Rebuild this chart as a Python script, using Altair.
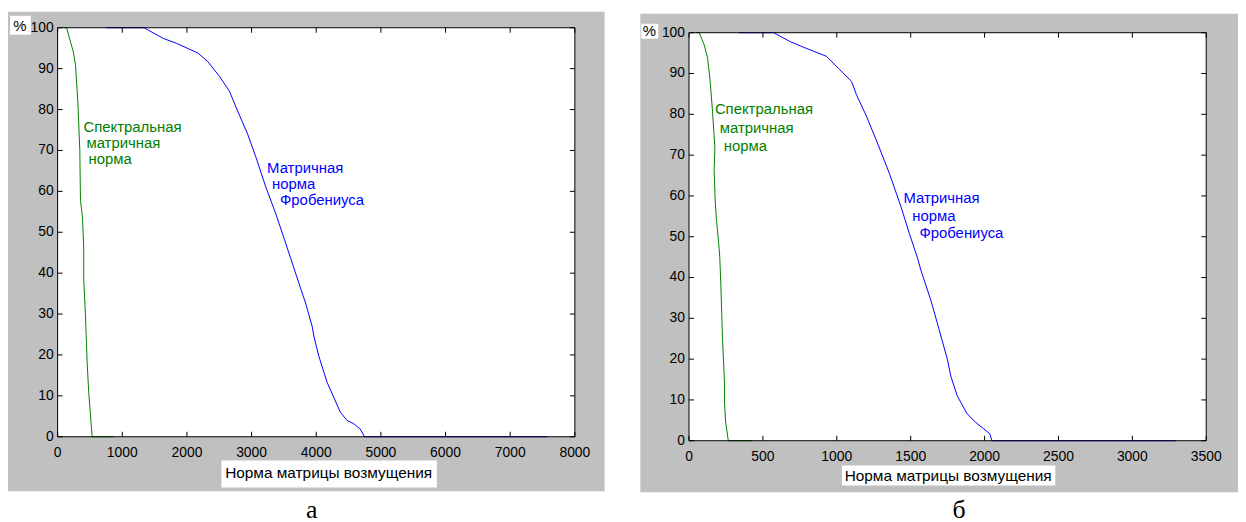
import altair as alt
import pandas as pd

# ---------------- data ----------------
# Panel "а"
a_green_x = [100, 138, 241, 276, 312, 343, 353, 384, 404, 404, 430, 456, 481, 533, 865]
a_green_y = [100, 100, 94.2, 91, 82, 70, 57.8, 53.7, 46, 38.3, 29.9, 18.2, 10.9, 0, 0]
a_blue_x = [753, 1336, 1633, 1838, 2171, 2324, 2504, 2657, 2785, 2939, 3068, 3221, 3375,
            3502, 3605, 3733, 3835, 3937, 3963, 4040, 4168, 4373, 4475, 4578, 4680, 4747, 7573]
a_blue_y = [100, 100, 97.4, 96.2, 93.8, 91.7, 88.1, 84.5, 79.6, 74, 68.3, 61, 54.5,
            48.5, 43.6, 37.5, 32.7, 27, 24.6, 19.7, 13.3, 6, 4, 3.2, 1.9, 0, 0]
a_xticks = [0, 1000, 2000, 3000, 4000, 5000, 6000, 7000, 8000]

# Panel "б"
b_green_x = [47, 69, 103, 126, 141, 159, 175, 170, 177, 186, 199, 208, 215, 222, 226,
             233, 240, 240, 248, 266, 428]
b_green_y = [100, 100, 97, 93.7, 88.9, 80.8, 71.8, 66.2, 58.9, 54, 49.1, 45.1, 38.6, 30.5,
             25.6, 20, 14.3, 9.4, 4.5, 0, 0]
b_blue_x = [338, 573, 685, 764, 931, 1010, 1099, 1133, 1200, 1278, 1357, 1435, 1491, 1547,
            1569, 1636, 1692, 1748, 1771, 1815, 1882, 1939, 1995, 2035, 2050, 3293]
b_blue_y = [100, 100, 97.8, 96.6, 94.2, 91.3, 88.1, 84.8, 79.6, 72.7, 65.4, 57.3, 50.8, 44.7,
            41.8, 34.5, 27.3, 20, 15.9, 11, 6.6, 4.5, 2.9, 1.7, 0, 0]
b_xticks = [0, 500, 1000, 1500, 2000, 2500, 3000, 3500]

yticks = [0, 10, 20, 30, 40, 50, 60, 70, 80, 90, 100]

green_lines = ["Спектральная", "матричная", "норма"]
blue_lines = ["Матричная", "норма", "Фробениуса"]
a_green_tx = [399, 445, 476]
a_green_ty = [75.7, 71.8, 68.0]
a_blue_tx = [3240, 3317, 3440]
a_blue_ty = [65.8, 61.9, 57.8]
b_green_tx = [175, 208, 235]
b_green_ty = [81.3, 76.6, 72.3]
b_blue_tx = [1451, 1511, 1559]
b_blue_ty = [59.6, 55.0, 50.9]

x_title = "Норма матрицы возмущения"
y_title = "%"

GREEN = "#008000"
BLUE = "#0000FF"
GRAY = "#C0C0C0"
FONT = "Liberation Sans"
W = 521


def panel(gx, gy, bx, by, xmax, xticks, gtx, gty, btx, bty, tag, geo):
    H = geo["H"]
    oy = geo["oy"]
    one = pd.DataFrame({"k": [0]})
    xs = alt.Scale(domain=[0, xmax], nice=False, zero=False)
    ys = alt.Scale(domain=[0, 100], nice=False, zero=False, range=[oy + H, oy])

    def X(f):
        return alt.X(f, scale=xs, axis=None)

    def Y(f):
        return alt.Y(f, scale=ys, axis=None)

    def box(x0, x1, y0, y1, **kw):
        return alt.Chart(one).mark_rect(**kw).encode(
            x=alt.value(x0), x2=alt.value(x1), y=alt.value(y0 + oy), y2=alt.value(y1 + oy))

    layers = [
        box(geo["gx0"], geo["gx1"], geo["gy0"], geo["gy1"], color=GRAY),   # figure background
        box(0, W, 0, H, color="white"),                                    # plot area
        box(geo["px0"], geo["px1"], geo["py0"], geo["py1"], color="white"),  # "%" box
        box(geo["tx0"], geo["tx1"], geo["ty0"], geo["ty1"], color="white"),  # x title box
    ]

    # curves
    gdf = pd.DataFrame({"x": gx, "y": gy, "i": range(len(gx))})
    bdf = pd.DataFrame({"x": bx, "y": by, "i": range(len(bx))})
    layers.append(alt.Chart(gdf).mark_line(color=GREEN, strokeWidth=1).encode(
        x=X("x:Q"), y=Y("y:Q"), order="i:Q"))
    layers.append(alt.Chart(bdf).mark_line(color=BLUE, strokeWidth=1).encode(
        x=X("x:Q"), y=Y("y:Q"), order="i:Q"))

    # inward ticks on all four sides
    xt = pd.DataFrame({"v": xticks, "t": [str(v) for v in xticks]})
    yt = pd.DataFrame({"v": yticks, "t": [str(v) for v in yticks]})
    for (a, b) in [(H, H - 5), (0, 5)]:
        layers.append(alt.Chart(xt).mark_rule(color="#000", strokeWidth=1).encode(
            x=X("v:Q"), y=alt.value(a + oy), y2=alt.value(b + oy)))
    for (a, b) in [(0, 5), (W, W - 5)]:
        layers.append(alt.Chart(yt).mark_rule(color="#000", strokeWidth=1).encode(
            y=Y("v:Q"), x=alt.value(a), x2=alt.value(b)))
    # box
    layers.append(box(0, W, 0, H, fill=None, stroke="#000", strokeWidth=1))

    # tick labels
    layers.append(alt.Chart(xt).mark_text(color="#000", font=FONT, fontSize=14, align="center",
                                          baseline="top").encode(
        x=X("v:Q"), y=alt.value(H + oy + 9), text="t:N"))
    layers.append(alt.Chart(yt).mark_text(color="#000", font=FONT, fontSize=14, align="right",
                                          baseline="middle").encode(
        y=Y("v:Q"), x=alt.value(-4), text="t:N"))

    # annotations
    gt = pd.DataFrame({"t": green_lines, "x": gtx, "y": gty})
    bt = pd.DataFrame({"t": blue_lines, "x": btx, "y": bty})
    layers.append(alt.Chart(gt).mark_text(color=GREEN, font=FONT, fontSize=15, align="left",
                                          baseline="middle").encode(
        x=X("x:Q"), y=Y("y:Q"), text="t:N"))
    layers.append(alt.Chart(bt).mark_text(color=BLUE, font=FONT, fontSize=15, align="left",
                                          baseline="middle").encode(
        x=X("x:Q"), y=Y("y:Q"), text="t:N"))

    # axis titles and panel tag
    layers.append(alt.Chart(pd.DataFrame({"t": [x_title]})).mark_text(
        color="#000", font=FONT, fontSize=15.5, align="center", baseline="middle").encode(
        x=alt.value(geo["ttx"]), y=alt.value(geo["tty"] + oy), text="t:N"))
    layers.append(alt.Chart(pd.DataFrame({"t": [y_title]})).mark_text(
        color="#000", font=FONT, fontSize=15, align="center", baseline="middle").encode(
        x=alt.value(geo["ptx"]), y=alt.value(geo["pty"] + oy), text="t:N"))
    layers.append(alt.Chart(pd.DataFrame({"t": [tag]})).mark_text(
        color="#000", font="Liberation Serif", fontSize=26, align="center",
        baseline="alphabetic").encode(
        x=alt.value(geo["tagx"]), y=alt.value(geo["tagy"] + oy), text="t:N"))

    return alt.layer(*layers).properties(width=W, height=H + oy)


geo_a = dict(H=412, oy=0, gx0=-50, gx1=551, gy0=-16, gy1=467,
             px0=-48, px1=-27, py0=-12, py1=7, tx0=165, tx1=382, ty0=436, ty1=463,
             ttx=273, tty=449, ptx=-38, pty=-2, tagx=256, tagy=494)
geo_b = dict(H=411, oy=5, gx0=-49, gx1=553, gy0=-19, gy1=463,
             px0=-48, px1=-31, py0=-9, py1=6, tx0=154, tx1=369, ty0=436, ty1=456,
             ttx=261, tty=447, ptx=-40, pty=-2, tagx=272, tagy=489)

left = panel(a_green_x, a_green_y, a_blue_x, a_blue_y, 8000, a_xticks,
             a_green_tx, a_green_ty, a_blue_tx, a_blue_ty, "а", geo_a)
right = panel(b_green_x, b_green_y, b_blue_x, b_blue_y, 3500, b_xticks,
              b_green_tx, b_green_ty, b_blue_tx, b_blue_ty, "б", geo_b)

chart = alt.hconcat(left, right, spacing=36).properties(
    padding={"left": 0, "top": 2, "right": 0, "bottom": 0},
    background="white",
).configure_view(stroke=None)

chart.save("out.html", embed_options={"renderer": "svg", "actions": False})
